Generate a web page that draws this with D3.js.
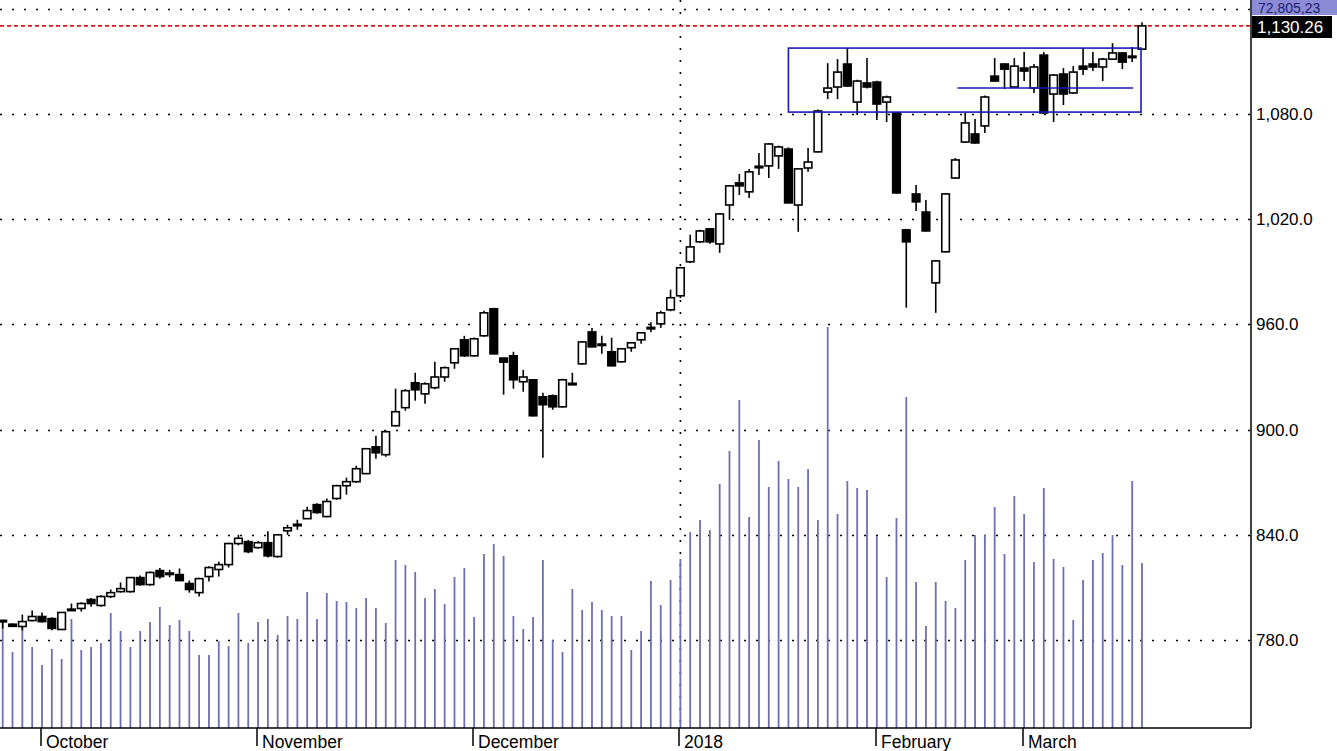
<!DOCTYPE html>
<html><head><meta charset="utf-8">
<script src="https://cdn.jsdelivr.net/npm/d3@7/dist/d3.min.js"></script>
<style>body{margin:0;background:#fff}svg{display:block}</style>
</head><body>
<svg id="c" width="1337" height="751"></svg>
<script>
const opens=[791.2,789,787.7,791.1,793.4,792.2,786,797.2,798,803.1,799.7,804.8,807.6,807.6,815.6,811.6,819.6,818.2,817.3,812.2,807,816.2,820.2,823,835,836.1,832.7,835.5,827.6,842.3,845.6,849.2,857.2,850.4,860.7,868,870.3,874.9,890.2,885.7,902.2,912.5,926.7,920.4,923.9,930,938.1,951.2,942.1,953.5,968.9,940.8,942.1,927.3,928.4,918.7,919.3,913,925.8,937.5,955.7,948.8,944.4,938.7,946.7,951.2,957.5,960.3,968.3,976.3,995.7,1007.1,1014.5,1005.9,1028.1,1040.7,1035.6,1049.5,1050.4,1056.1,1060,1028.1,1049.2,1058.4,1092.5,1095.4,1108.5,1086.8,1097.7,1098.2,1086.8,1080.6,1013.9,1034.4,1024.1,983.7,1001.4,1043.5,1064,1068.6,1073.2,1101.6,1108.5,1095.4,1106.2,1094.8,1113.6,1091.4,1102.8,1092,1107.3,1108.5,1106.8,1111.3,1114.8,1112.2,1117];
const highs=[791.5,789.5,794.5,796.8,795.7,793,796,800.8,801.5,804,805.5,808.8,812.8,816,816.8,819,821,820,820.8,813.9,815.5,822,824.7,835.5,840,837,836.5,842,840.5,845.8,848.6,856,858,860.7,868.5,872.6,879.4,889.5,896.5,899.5,923.3,923,932.4,927,938.7,936,946.5,953.5,952.5,967.8,969.5,941,944.4,934.1,928.8,921,920,929,932.4,950.5,958,953.5,952.4,946.5,950,955.5,961.2,967.8,979.8,992.8,1011.1,1014,1015,1023.5,1039.5,1045.8,1048.7,1057.8,1063.5,1062,1061,1049,1060.6,1082.5,1109,1111.3,1117.6,1099.5,1111.9,1099,1090.5,1081,1014.5,1039.5,1031,996.8,1035,1054.9,1080.6,1077.2,1090.5,1111.9,1109,1111.9,1115.3,1108.5,1115.3,1102.8,1106.2,1107.3,1117.6,1115.3,1112,1120.4,1115.3,1118.2,1132.4];
const lows=[786.5,787.5,785.5,790.5,790,785.5,785.8,797,796.2,799,799,804,807,807,811,811,815,815.8,813.5,807,804.8,813.3,816.2,821.3,834,829.5,832,827,827,840,842.9,849,852,850,860,862.9,869.7,874.5,883.4,884.5,901.8,910.8,916.5,914.8,923,927.3,934.7,941.5,941.5,953,943,919.9,923.3,921.6,907.5,884,911.3,912.5,925.5,937,946.8,943.2,936,938.1,944.4,948.9,955.7,958,967.5,975,995,1006.5,1006,1000.8,1019.6,1033.8,1032.1,1045.2,1043.5,1048.7,1029,1012.8,1047,1058,1088.5,1088.5,1095.5,1079.4,1094.5,1076.6,1075.4,1034.5,969.5,1024.7,1013,966.6,1001,1043,1063.5,1063,1069.2,1098.5,1094.2,1095,1098.8,1092,1080,1075.4,1085.1,1091.5,1102.2,1104.5,1098.8,1110.8,1105.6,1109.6,1116.5];
const closes=[790.8,787.8,790.5,793.4,790.5,786.6,795.7,797.6,800.8,800.8,804.8,807,809.3,815.6,811.6,818.5,816.2,817.6,813.9,808.8,815,821.3,823,835,838,830.4,835.5,828,840,844,846,853.8,852.7,859,868,870.3,877.7,889.1,886.8,898.8,910.2,922.2,922.7,926.1,930,935.3,946.1,942.1,951.8,966.6,943.2,938.5,928.4,930,907.9,914.2,913,928.4,926.4,950,947.2,948,936.4,946.1,949.5,955.2,958.3,966.6,975.2,992.3,1004.2,1013.3,1007.1,1023,1039,1039,1047,1050.2,1062.9,1061.2,1029.3,1048.7,1052.6,1081.7,1094.8,1103.9,1096,1098.8,1095.4,1085.7,1089.7,1035,1007.1,1029.9,1013.3,996.2,1034.4,1053.8,1074.9,1063.5,1089.7,1098.8,1105.6,1107.3,1104.5,1106.8,1080.6,1102.2,1091.4,1103.9,1105.6,1106.8,1111.3,1114.8,1109.6,1113,1130.26];
const volumes=[108,76,101,81,63,79,69,109,78,81,85,115,97,81,97,106,121,103,108,97,73,73,87,82,115,85,106,109,93,112,109,136,109,135,127,126,120,130,120,105,168,163,156,130,139,124,151,160,111,174,184,172,112,99,111,168,88,76,139,118,126,118,112,112,78,97,147,123,148,169,196,208,198,244,277,328,211,288,241,267,249,241,259,208,401,214,247,240,238,192,151,210,331,146,102,146,127,120,168,193,193,221,174,232,214,166,240,169,161,108,148,168,175,193,163,247,165];
const monthLabels=["October","November","December","2018","February","March"];
const monthIndex=[4,26,48,69,89,104];
const priceTicks=[780,840,900,960,1020,1080,1140];
const lastPrice=1130.26;
const volumeLabel="72,805,23";
const boxRange={i0:80,i1:115.9,p0:1081.1,p1:1117.6};
const midLine={i0:97.2,i1:115.1,p:1094.8};

const svg=d3.select("#c");
const W=1337,axisX=1251,bottom=728;
const x=d3.scaleLinear().domain([0,116]).range([2.7,1142]);
const y=d3.scaleLinear().domain([780,1080]).range([640,114]);
const yv=d3.scaleLinear().domain([0,400]).range([bottom,328]);
const font="Liberation Sans, Arial, sans-serif";

svg.append("g").selectAll("line").data(priceTicks).join("line")
 .attr("x1",0).attr("x2",axisX).attr("y1",d=>Math.round(y(d))+0.5).attr("y2",d=>Math.round(y(d))+0.5)
 .attr("stroke","#000").attr("stroke-width",1.6).attr("stroke-dasharray","2,10");
svg.append("line").attr("x1",x(69)).attr("x2",x(69)).attr("y1",0).attr("y2",bottom)
 .attr("stroke","#000").attr("stroke-width",1.6).attr("stroke-dasharray","2,10");

svg.append("g").selectAll("line").data(volumes).join("line")
 .attr("x1",(d,i)=>x(i)).attr("x2",(d,i)=>x(i)).attr("y1",bottom).attr("y2",d=>yv(d))
 .attr("stroke","#6e6eb4").attr("stroke-width",1.8);

svg.append("line").attr("x1",0).attr("x2",axisX).attr("y1",y(lastPrice)).attr("y2",y(lastPrice))
 .attr("stroke","#e01818").attr("stroke-width",1.7).attr("stroke-dasharray","4,3");

const g=svg.append("g");
opens.forEach((o,i)=>{
  const c=closes[i],up=c>=o,cx=x(i);
  g.append("line").attr("x1",cx).attr("x2",cx).attr("y1",y(highs[i])).attr("y2",y(lows[i])).attr("stroke","#000").attr("stroke-width",1.6);
  const t=y(Math.max(o,c)),b=y(Math.min(o,c));
  g.append("rect").attr("x",cx-3.8).attr("width",7.6).attr("y",t).attr("height",Math.max(b-t,1.5))
   .attr("fill",up?"#fff":"#000").attr("stroke","#000").attr("stroke-width",1.6);
});

svg.append("rect").attr("x",x(boxRange.i0)).attr("y",y(boxRange.p1))
 .attr("width",x(boxRange.i1)-x(boxRange.i0)).attr("height",y(boxRange.p0)-y(boxRange.p1))
 .attr("fill","none").attr("stroke","#1a1ab4").attr("stroke-width",1.6);
svg.append("line").attr("x1",x(midLine.i0)).attr("x2",x(midLine.i1)).attr("y1",y(midLine.p)).attr("y2",y(midLine.p))
 .attr("stroke","#1a1ab4").attr("stroke-width",1.6);

svg.append("line").attr("x1",axisX).attr("x2",axisX).attr("y1",0).attr("y2",bottom).attr("stroke","#000").attr("stroke-width",1.5);
svg.append("line").attr("x1",0).attr("x2",axisX).attr("y1",bottom).attr("y2",bottom).attr("stroke","#000").attr("stroke-width",1.5);
svg.append("g").selectAll("text").data(priceTicks.filter(d=>d<1100)).join("text")
 .attr("x",1256).attr("y",d=>y(d)+6).attr("font-family",font).attr("font-size",17).text(d=>d3.format(",.1f")(d));
const mt=svg.append("g");
monthIndex.forEach((mi,k)=>{
  const mx=Math.round(x(mi))-1;
  mt.append("line").attr("x1",mx).attr("x2",mx).attr("y1",bottom).attr("y2",746).attr("stroke","#000").attr("stroke-width",1.5);
  mt.append("text").attr("x",mx+5).attr("y",748).attr("font-family",font).attr("font-size",17.5).text(monthLabels[k]);
});
svg.append("rect").attr("x",axisX+1).attr("y",0).attr("width",W-axisX).attr("height",15).attr("fill","#8c8cd6");
svg.append("text").attr("x",1258).attr("y",12.5).attr("font-family",font).attr("font-size",14).attr("fill","#1c1c6e").text(volumeLabel);
svg.append("rect").attr("x",axisX+1).attr("y",16).attr("width",80).attr("height",22).attr("fill","#000");
svg.append("text").attr("x",1257).attr("y",33).attr("font-family",font).attr("font-size",17).attr("fill","#fff").text(d3.format(",.2f")(lastPrice));
</script>
</body></html>
